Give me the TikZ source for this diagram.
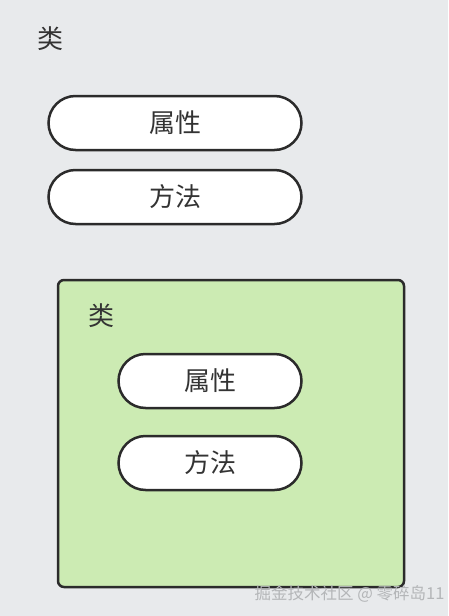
\documentclass[tikz,border=0pt]{standalone}
\usepackage{fontspec}
\newfontfamily\cjk{Noto Sans CJK SC}
\definecolor{bggray}{HTML}{E8EAEC}
\definecolor{boxgreen}{HTML}{CCEBB3}
\definecolor{linegray}{HTML}{2B2B2B}
\definecolor{txtgray}{HTML}{333333}
\definecolor{markgray}{HTML}{B4B6B8}
\tikzset{
  pill/.style={draw=linegray,line width=2.5pt,fill=white,rounded corners=27pt,
    minimum height=54pt,text=txtgray,font=\cjk\fontsize{26}{26}\selectfont},
  title/.style={text=txtgray,font=\cjk\fontsize{26}{26}\selectfont},
}
\begin{document}
\begin{tikzpicture}[x=1pt,y=-1pt]
\fill[bggray] (0,0) rectangle (448,616);
\useasboundingbox (0,0) rectangle (448,616);
% outer class
\node[title] (cls) at (50,39) {类};
\node[pill,minimum width=253pt] (attr) at (175,123) {属性};
\node[pill,minimum width=253pt] (meth) at (175,197) {方法};
% inner class
\draw[draw=linegray,line width=2.5pt,fill=boxgreen,rounded corners=6pt] (58,280) rectangle (404,587);
\node[title] (icls) at (101,316) {类};
\node[pill,minimum width=183pt] (iattr) at (210,381) {属性};
\node[pill,minimum width=183pt] (imeth) at (210,463) {方法};
\node[text=markgray,font=\cjk\fontsize{16.5}{16.5}\selectfont,anchor=east] (mark) at (448,594) {掘金技术社区 @ 零碎岛11};
\end{tikzpicture}
\end{document}
